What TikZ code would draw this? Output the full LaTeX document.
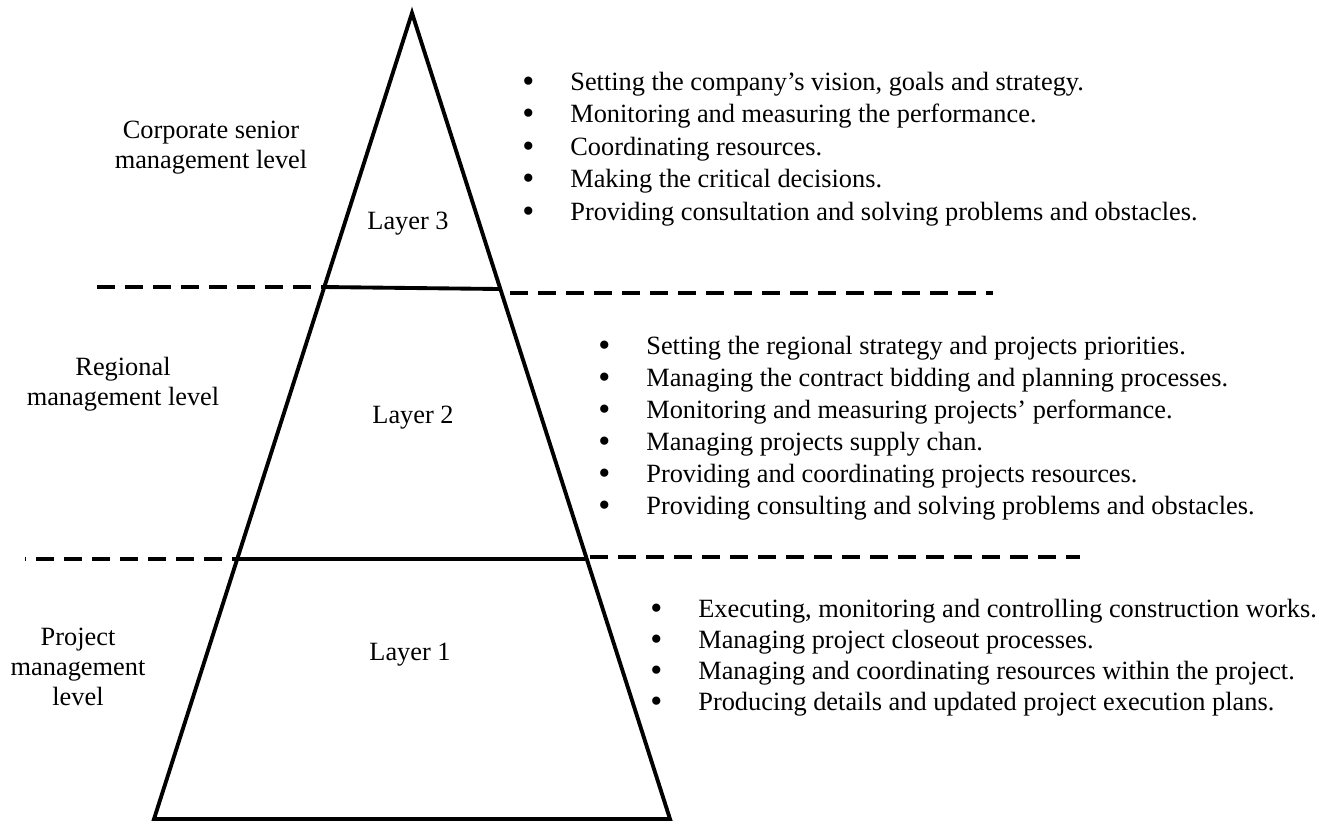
\documentclass[tikz,border=0pt]{standalone}
\usepackage{fontspec}
\setmainfont{Liberation Serif}
\usepackage{tikz}

\newcommand{\blt}{\llap{\raisebox{-0.08em}{\scalebox{1.3}{\textbullet}}\hspace{0.72cm}}}

\begin{document}
\begin{tikzpicture}[x=0.02cm,y=-0.02cm,
		edge/.style={line width=2.2pt,line join=miter},
		sep/.style={line width=2.2pt,dash pattern=on 0.36cm off 0.2cm},
		lbl/.style={font=\fontsize{15pt}{17pt}\selectfont,align=center,inner sep=0pt},
		item/.style={font=\fontsize{15pt}{17pt}\selectfont,anchor=base west,inner sep=0pt,
			text height=0.7em,text depth=0.2em}]
			\useasboundingbox (0,0) rectangle (1327,823);
			% pyramid
			\coordinate (apex) at (412,13);
			\coordinate (bl) at (154,819);
			\coordinate (br) at (670,819);
			\coordinate (l3) at (324,287);
			\coordinate (r3) at (500,289);
			\coordinate (l2) at (237,559);
			\coordinate (r2) at (585,559);
			\draw[edge] (apex) -- (bl) -- (br) -- cycle;
			\draw[edge] (l3) -- (r3);
			\draw[edge] (l2) -- (r2);
			% dashed level borders
			\coordinate (d3a) at (97,287);
			\coordinate (d3b) at (510,293);
			\coordinate (d3c) at (993,293);
			\coordinate (d2a) at (25,559);
			\coordinate (d2b) at (590,557);
			\coordinate (d2c) at (1080,557);
			\draw[sep] (d3a) -- (l3);
			\draw[sep] (d3b) -- (d3c);
			\draw[sep,dash phase=0.34cm] (d2a) -- (l2);
			\draw[sep] (d2b) -- (d2c);
			% levels and layers
			\node[lbl] (corp) at (211,148) {Corporate senior\\management level};
			\node[lbl] (reg) at (123,384) {Regional\\management level};
			\node[lbl] (proj) at (78,667) {Project\\management\\level};
			\node[lbl] (layer3) at (408,224) {Layer 3};
			\node[lbl] (layer2) at (413,418) {Layer 2};
			\node[lbl] (layer1) at (410,655) {Layer 1};
			% tasks
			\foreach \t [count=\i] in {{Setting the company’s vision, goals and strategy.},
				{Monitoring and measuring the performance.},
				{Coordinating resources.},
				{Making the critical decisions.},
				{Providing consultation and solving problems and obstacles.}}
				\node[item] (top\i) at (570,{90+32.5*(\i-1)}) {\blt\t};
			\foreach \t [count=\i] in {{Setting the regional strategy and projects priorities.},
				{Managing the contract bidding and planning processes.},
				{Monitoring and measuring projects’ performance.},
				{Managing projects supply chan.},
				{Providing and coordinating projects resources.},
				{Providing consulting and solving problems and obstacles.}}
				\node[item] (mid\i) at (646,{354+32*(\i-1)}) {\blt\t};
			\foreach \t [count=\i] in {{Executing, monitoring and controlling construction works.},
				{Managing project closeout processes.},
				{Managing and coordinating resources within the project.},
				{Producing details and updated project execution plans.}}
				\node[item] (low\i) at (698,{617+31*(\i-1)}) {\blt\t};
		\end{tikzpicture}
\end{document}
